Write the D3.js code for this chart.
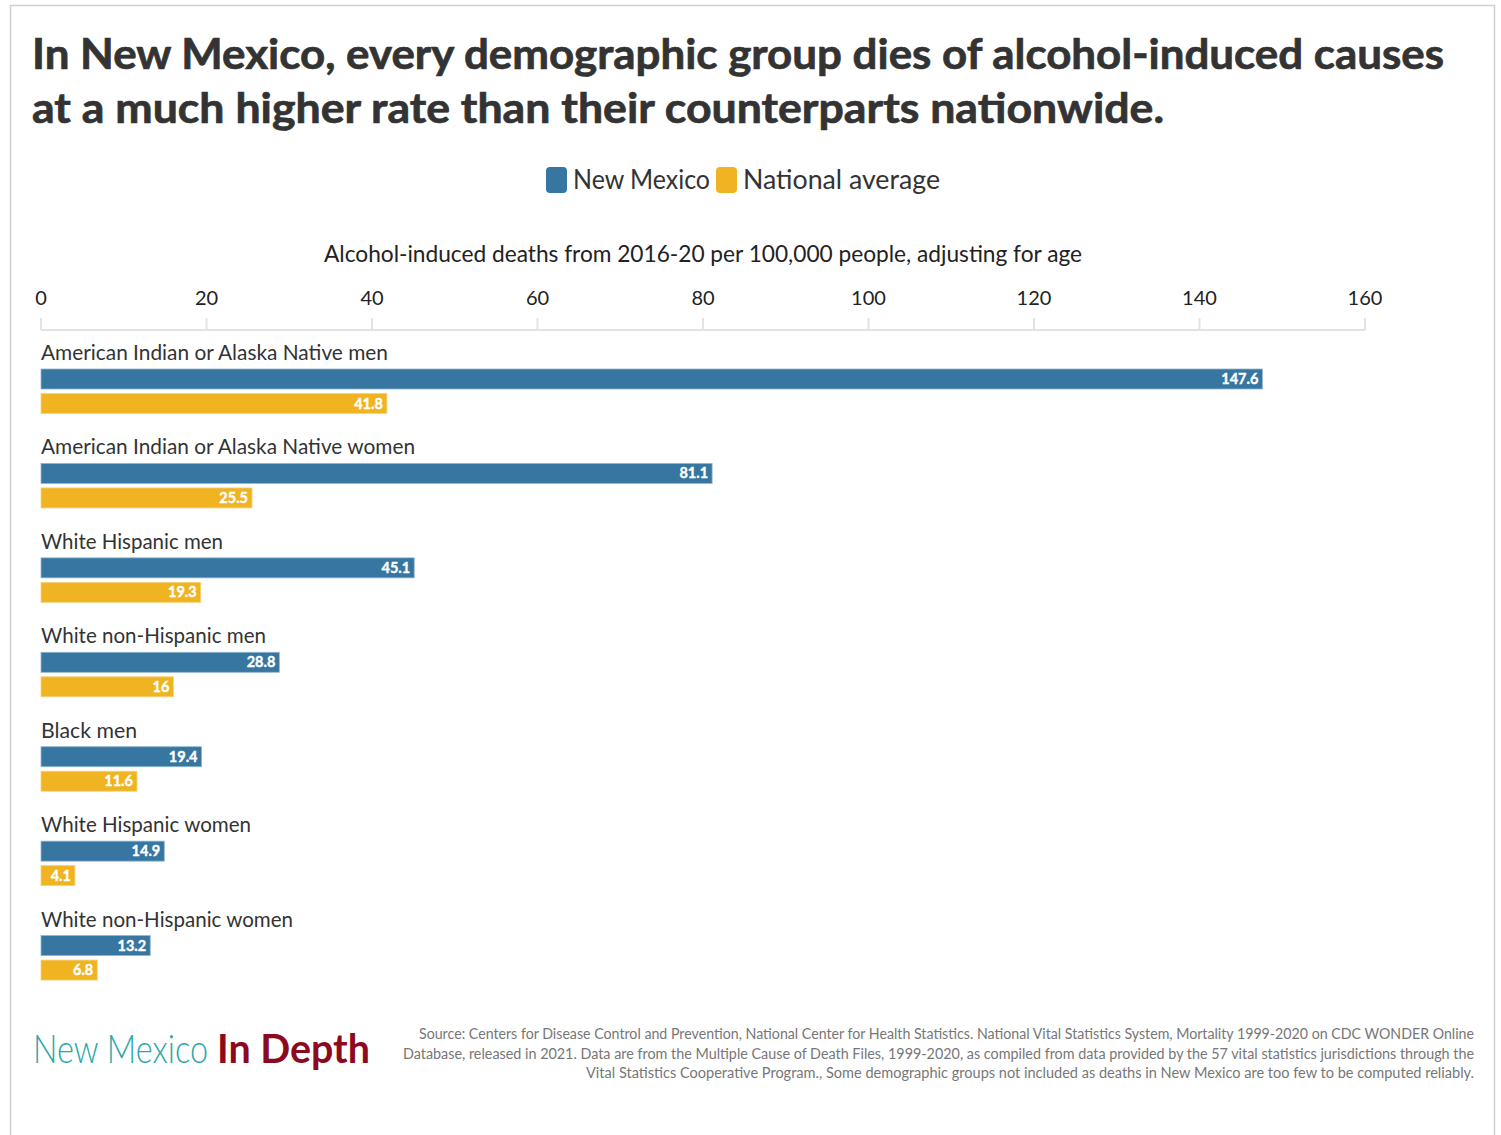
<!DOCTYPE html>
<html><head><meta charset="utf-8">
<script src="https://cdn.jsdelivr.net/npm/d3@7"></script>
<style>
html,body{margin:0;padding:0;background:#fff;}
svg{display:block;}
text{font-family:"Source Sans Pro",Lato,"Open Sans",sans-serif;}
</style></head>
<body>
<svg id="chart" width="1501" height="1135"></svg>
<script>
const categories = [
  "American Indian or Alaska Native men",
  "American Indian or Alaska Native women",
  "White Hispanic men",
  "White non-Hispanic men",
  "Black men",
  "White Hispanic women",
  "White non-Hispanic women"
];
const newMexico = [147.6, 81.1, 45.1, 28.8, 19.4, 14.9, 13.2];
const nationalAverage = [41.8, 25.5, 19.3, 16, 11.6, 4.1, 6.8];
const seriesNames = ["New Mexico", "National average"];
const seriesColors = ["#3676a0", "#f0b423"];
const xTicks = [0, 20, 40, 60, 80, 100, 120, 140, 160];

const svg = d3.select("#chart");

// frame
svg.append("rect").attr("x", 10.5).attr("y", 5.5).attr("width", 1484).attr("height", 1140)
  .attr("fill", "none").attr("stroke", "#d0d0d0").attr("stroke-width", 1.5);

// title
const titleLines = ["In New Mexico, every demographic group dies of alcohol-induced causes",
                    "at a much higher rate than their counterparts nationwide."];
const titleWidths = [1412, 1132];
titleLines.forEach((t, i) => {
  svg.append("text").attr("x", 32).attr("y", 69 + i * 54)
    .attr("font-size", 42).attr("font-weight", 700).attr("fill", "#333")
    .attr("stroke", "#333").attr("stroke-width", 0.7)
    .attr("textLength", titleWidths[i]).attr("lengthAdjust", "spacingAndGlyphs")
    .text(t);
});

// legend
const legend = svg.append("g");
const legendItems = [{x: 546, tx: 573, w: 137}, {x: 716, tx: 743, w: 197}];
seriesNames.forEach((n, i) => {
  legend.append("rect").attr("x", legendItems[i].x).attr("y", 167).attr("width", 21).attr("height", 26)
    .attr("rx", 4).attr("fill", seriesColors[i]);
  legend.append("text").attr("x", legendItems[i].tx).attr("y", 189).attr("font-size", 26)
    .attr("fill", "#333").attr("textLength", legendItems[i].w).attr("lengthAdjust", "spacingAndGlyphs").text(n);
});

// axis title
svg.append("text").attr("x", 703).attr("y", 262).attr("text-anchor", "middle")
  .attr("font-size", 23).attr("fill", "#222")
  .attr("textLength", 758).attr("lengthAdjust", "spacingAndGlyphs")
  .text("Alcohol-induced deaths from 2016-20 per 100,000 people, adjusting for age");

const x = d3.scaleLinear().domain([0, 160]).range([41, 1365]);

// axis
const axisG = svg.append("g").attr("transform", "translate(0,330)");
axisG.append("line").attr("x1", x(0)).attr("x2", x(160)).attr("y1", 0).attr("y2", 0)
  .attr("stroke", "#e3e3e3").attr("stroke-width", 2);
xTicks.forEach(t => {
  axisG.append("line").attr("x1", x(t)).attr("x2", x(t)).attr("y1", -12).attr("y2", 0)
    .attr("stroke", "#e3e3e3").attr("stroke-width", 2);
  axisG.append("text").attr("x", x(t)).attr("y", -25).attr("text-anchor", "middle")
    .attr("font-size", 20).attr("fill", "#222").text(t);
});

// groups
const y = d3.scaleBand().domain(categories).range([339, 1000]).paddingInner(0).paddingOuter(0);
const barH = 20;
const labelWidths = [347, 374, 182, 225, 96, 210, 252];
const g = svg.append("g");
categories.forEach((c, i) => {
  const y0 = y(c);
  g.append("text").attr("x", 41).attr("y", y0 + 21).attr("font-size", 21).attr("fill", "#333")
    .attr("textLength", labelWidths[i]).attr("lengthAdjust", "spacingAndGlyphs").text(c);
  [newMexico[i], nationalAverage[i]].forEach((v, s) => {
    const by = y0 + 30 + s * 24.5;
    g.append("rect").attr("x", x(0)).attr("y", by).attr("width", x(v) - x(0)).attr("height", barH)
      .attr("fill", seriesColors[s]).attr("stroke", s === 0 ? "#8fb6cf" : "#f6d27d").attr("stroke-width", 0.8);
    g.append("text").attr("x", x(v) - 4).attr("y", by + 15).attr("text-anchor", "end")
      .attr("font-size", 14.5).attr("font-weight", 700).attr("fill", "#fff")
      .attr("stroke", "#fff").attr("stroke-width", 0.4).text(String(v));
  });
});

// logo
svg.append("text").attr("transform", "translate(33,1063) scale(1,1.2)").attr("font-size", 33)
  .attr("fill", "#2aa7a9").attr("font-weight", 300)
  .attr("textLength", 175).attr("lengthAdjust", "spacingAndGlyphs").text("New Mexico");
svg.append("text").attr("x", 217).attr("y", 1063).attr("font-size", 40)
  .attr("fill", "#8c0a1e").attr("font-weight", 700)
  .attr("textLength", 153).attr("lengthAdjust", "spacingAndGlyphs").text("In Depth");

// source
const sourceLines = [
  "Source: Centers for Disease Control and Prevention, National Center for Health Statistics. National Vital Statistics System, Mortality 1999-2020 on CDC WONDER Online",
  "Database, released in 2021. Data are from the Multiple Cause of Death Files, 1999-2020, as compiled from data provided by the 57 vital statistics jurisdictions through the",
  "Vital Statistics Cooperative Program., Some demographic groups not included as deaths in New Mexico are too few to be computed reliably."
];
const sourceWidths = [1055, 1071, 888];
sourceLines.forEach((l, i) => {
  svg.append("text").attr("x", 1474).attr("y", 1039 + i * 19.5).attr("text-anchor", "end")
    .attr("font-size", 14.5).attr("fill", "#777")
    .attr("textLength", sourceWidths[i]).attr("lengthAdjust", "spacingAndGlyphs").text(l);
});
</script>
</body></html>
